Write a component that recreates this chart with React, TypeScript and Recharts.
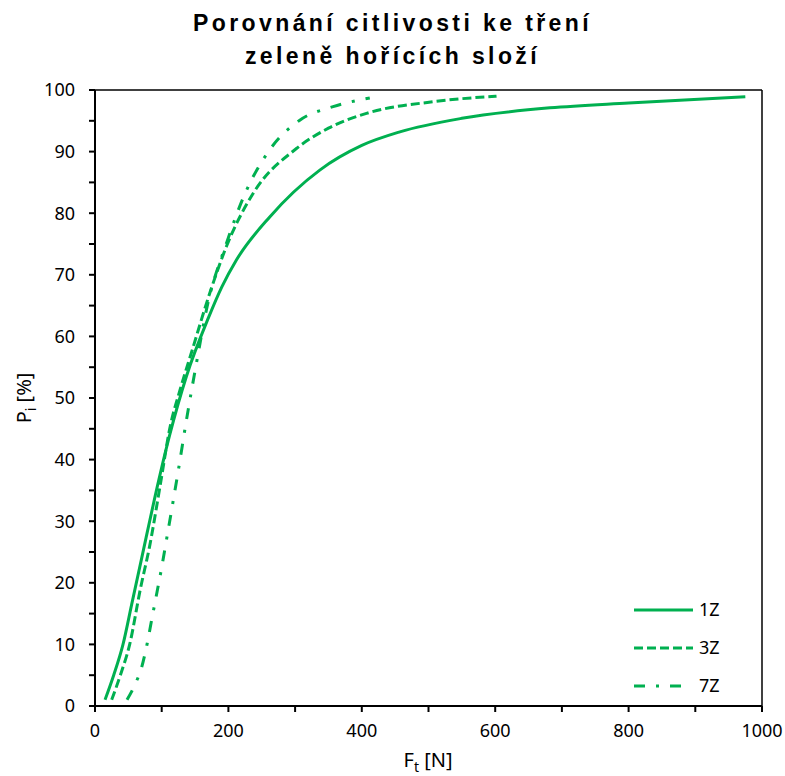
import { LineChart, Line, XAxis, YAxis, ReferenceLine } from 'recharts';

const GREEN = '#00B050';
const TICK_FONT = '"Noto Sans", sans-serif';

// friction force [N] vs. initiation probability [%] for each mixture
const force1Z = [15, 28, 42, 55, 70, 90, 112, 137, 170, 190, 212, 262, 337, 400, 457, 550, 682, 800, 975];
const prob1Z = [1, 5, 10, 16.5, 24, 34, 44, 53.5, 63, 68, 72.4, 79.4, 87, 91, 93.2, 95.4, 97.1, 97.9, 98.9];

const force3Z = [25, 38, 52, 68, 82, 98, 112, 128, 145, 172, 197, 237, 302, 350, 407, 507, 602];
const prob3Z = [1, 5, 10, 19, 26, 36, 45, 51.5, 57.5, 67, 74.6, 83.2, 90.5, 93.8, 96.2, 98.1, 99];

const force7Z = [48, 60, 70, 78, 85, 93, 100, 108, 125, 138, 152, 168, 197, 225, 262, 307, 357, 412];
const prob7Z = [1, 3.5, 6.3, 10, 14, 18.5, 22.5, 27.5, 38.3, 47, 55.6, 64.8, 75.1, 83.2, 90.3, 95.1, 97.3, 98.7];

const xTicks = [0, 100, 200, 300, 400, 500, 600, 700, 800, 900, 1000];
const yTicks = [0, 5, 10, 15, 20, 25, 30, 35, 40, 45, 50, 55, 60, 65, 70, 75, 80, 85, 90, 95, 100];

const toPoints = (f: number[], p: number[]) => f.map((v, i) => ({ f: v, p: p[i] }));

const series = [
  { name: '1Z', data: toPoints(force1Z, prob1Z), dash: undefined as string | undefined, sample: 59 },
  { name: '3Z', data: toPoints(force3Z, prob3Z), dash: '9 4', sample: 59 },
  { name: '7Z', data: toPoints(force7Z, prob7Z), dash: '11 11 3 11', sample: 47 },
];

function XLabel() {
  return (
    <text x={428} y={767} textAnchor="middle" fontFamily={TICK_FONT} fontSize={20} fill="#000">
      F<tspan dy={5} fontSize={14}>t</tspan>
      <tspan dy={-5}> [N]</tspan>
    </text>
  );
}

function YLabel() {
  return (
    <text
      x={0}
      y={0}
      transform="translate(31 398) rotate(-90)"
      textAnchor="middle"
      fontFamily={TICK_FONT}
      fontSize={20}
      fill="#000"
    >
      P<tspan dy={5} fontSize={14}>i</tspan>
      <tspan dy={-5}> [%]</tspan>
    </text>
  );
}

// legend sits inside the plot, lower right
function LegendBox() {
  return (
    <svg width={150} height={110} style={{ position: 'absolute', left: 628, top: 595 }}>
      {series.map((s, i) => (
        <g key={s.name}>
          <line
            x1={6}
            x2={6 + s.sample}
            y1={15 + i * 38}
            y2={15 + i * 38}
            stroke={GREEN}
            strokeWidth={3}
            strokeDasharray={s.dash}
          />
          <text x={71} y={15 + i * 38} dy="0.35em" fontFamily={TICK_FONT} fontSize={18} fill="#000">
            {s.name}
          </text>
        </g>
      ))}
    </svg>
  );
}

export default function App() {
  return (
    <div style={{ position: 'absolute', left: 0, top: 0, width: 785, height: 776, background: '#fff' }}>
      <div
        style={{
          position: 'absolute',
          left: 0,
          top: 7,
          width: 785,
          textAlign: 'center',
          fontFamily: '"Liberation Sans", Arial, sans-serif',
          fontWeight: 'bold',
          fontSize: 23,
          letterSpacing: 3.4,
          lineHeight: '33px',
          color: '#000',
          zIndex: 1,
        }}
      >
        <div>Porovnání citlivosti ke tření</div>
        <div>zeleně hořících složí</div>
      </div>
      <LineChart width={785} height={776} margin={{ top: 90, right: 23, bottom: 0, left: 0 }}>
        <XAxis
          type="number"
          dataKey="f"
          domain={[0, 1000]}
          ticks={xTicks}
          interval={0}
          height={70}
          tickSize={6}
          tickMargin={12}
          tickFormatter={(v: number) => (v % 200 === 0 ? String(v) : '')}
          tick={{ fill: '#000', fontSize: 18, fontFamily: TICK_FONT }}
          axisLine={{ stroke: '#000', strokeWidth: 2 }}
          tickLine={{ stroke: '#000', strokeWidth: 2 }}
          allowDataOverflow
          label={<XLabel />}
        />
        <YAxis
          type="number"
          dataKey="p"
          domain={[0, 100]}
          ticks={yTicks}
          interval={0}
          width={95}
          tickSize={6}
          tickMargin={14}
          tickFormatter={(v: number) => (v % 10 === 0 ? String(v) : '')}
          tick={{ fill: '#000', fontSize: 18, fontFamily: TICK_FONT }}
          axisLine={{ stroke: '#000', strokeWidth: 2 }}
          tickLine={{ stroke: '#000', strokeWidth: 2 }}
          allowDataOverflow
          label={<YLabel />}
        />
        <ReferenceLine y={100} stroke="#000" strokeWidth={1.5} />
        <ReferenceLine x={1000} stroke="#000" strokeWidth={1.5} />
        {series.map((s) => (
          <Line
            key={s.name}
            name={s.name}
            data={s.data}
            dataKey="p"
            type="monotone"
            stroke={GREEN}
            strokeWidth={3}
            strokeDasharray={s.dash}
            dot={false}
            activeDot={false}
            isAnimationActive={false}
          />
        ))}
      </LineChart>
      <LegendBox />
    </div>
  );
}
